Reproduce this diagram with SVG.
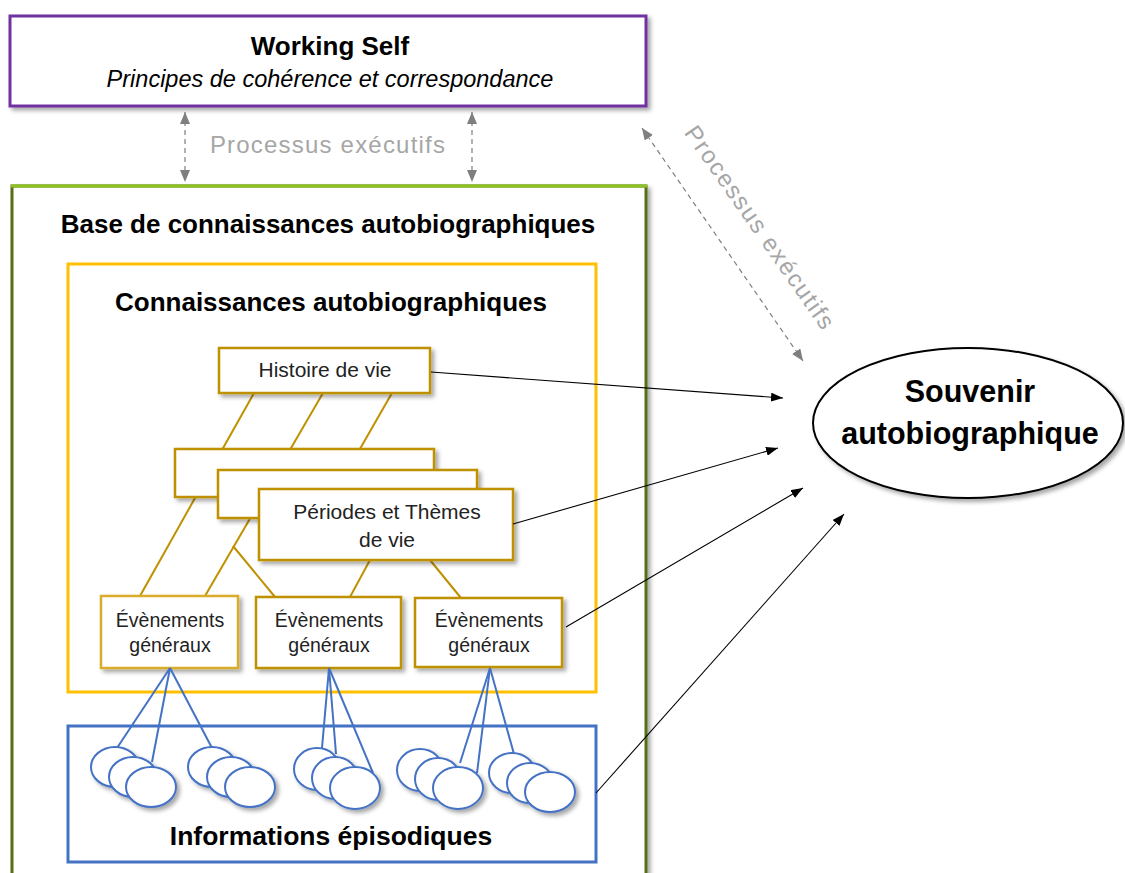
<svg xmlns="http://www.w3.org/2000/svg" width="1125" height="873" viewBox="0 0 1125 873">
<defs>
<filter id="sh" x="-10%" y="-10%" width="130%" height="130%">
<feDropShadow dx="3" dy="3" stdDeviation="2" flood-color="#000" flood-opacity="0.35"/>
</filter>
<marker id="ab" viewBox="0 0 12 9" refX="12" refY="4.5" markerWidth="12" markerHeight="9" markerUnits="userSpaceOnUse" orient="auto">
<path d="M0,0 L12,4.5 L0,9 z" fill="#000"/>
</marker>
<marker id="ag" viewBox="0 0 12 10" refX="12" refY="5" markerWidth="12" markerHeight="10" markerUnits="userSpaceOnUse" orient="auto-start-reverse">
<path d="M0,0 L12,5 L0,10 z" fill="#7F7F7F"/>
</marker>
</defs>
<style>
text{font-family:"Liberation Sans",Arial,sans-serif;fill:#000}
.t{font-weight:bold;font-size:26px;text-anchor:middle}
.n{font-size:21px;text-anchor:middle;fill:#222}
.ev{font-size:19.5px;text-anchor:middle;fill:#222}
.g{font-size:24px;fill:#A6A6A6;letter-spacing:1.2px;text-anchor:middle}
.gold{fill:#fff;stroke:#BF9000;stroke-width:2.5}
.gl{stroke:#BF9000;stroke-width:2;fill:none}
.bl{stroke:#4472C4;stroke-width:2;fill:none}
.ep{fill:#fff;stroke:#4472C4;stroke-width:2}
.dash{stroke:#7F7F7F;stroke-width:1.2;stroke-dasharray:5,4;fill:none}
.arr{stroke:#000;stroke-width:1.1;fill:none}
</style>

<g id="working-self">
<rect x="10" y="16" width="636" height="90" fill="#fff" stroke="#7030A0" stroke-width="3" filter="url(#sh)"/>
<text x="330" y="55" class="t">Working Self</text>
<text x="330" y="87" style="font-size:23.5px;font-style:italic;text-anchor:middle">Principes de cohérence et correspondance</text>
</g>

<g id="base">
<rect x="12" y="186" width="634" height="700" fill="#fff" stroke="#566F14" stroke-width="3" filter="url(#sh)"/>
<line x1="11" y1="186" x2="647" y2="186" stroke="#8DC21F" stroke-width="3"/>
<text x="328" y="233" class="t">Base de connaissances autobiographiques</text>
</g>

<g id="connaissances">
<rect x="68" y="264" width="528" height="428" fill="#fff" stroke="#FFC000" stroke-width="3"/>
<text x="331" y="311" class="t">Connaissances autobiographiques</text>
</g>

<g id="informations">
<rect x="68" y="726" width="528" height="136" fill="#fff" stroke="#4472C4" stroke-width="3"/>
<text x="331" y="845" class="t" style="font-size:26.5px">Informations épisodiques</text>
</g>

<g id="hierarchy-lines">
<line class="gl" x1="254" y1="393" x2="140" y2="596"/>
<line class="gl" x1="323" y1="393" x2="205" y2="596"/>
<line class="gl" x1="233" y1="546" x2="275" y2="597"/>
<line class="gl" x1="392" y1="393" x2="337" y2="489"/>
<line class="gl" x1="370" y1="560" x2="350" y2="597"/>
<line class="gl" x1="430" y1="560" x2="461" y2="598"/>
</g>

<g id="histoire">
<rect class="gold" x="219" y="348" width="211" height="45" filter="url(#sh)"/>
<text x="325" y="377" class="n">Histoire de vie</text>
</g>

<g id="periodes">
<rect class="gold" x="175" y="449" width="259" height="48" filter="url(#sh)"/>
<rect class="gold" x="218" y="470" width="259" height="48" filter="url(#sh)"/>
<rect class="gold" x="259" y="489" width="254" height="71" filter="url(#sh)"/>
<text x="387" y="519" class="n">Périodes et Thèmes</text>
<text x="387" y="547" class="n">de vie</text>
</g>

<g id="ev1">
<rect x="101" y="596" width="137" height="72" fill="#fff" stroke="#D9AD2C" stroke-width="2.5" filter="url(#sh)"/>
<text x="170" y="627" class="ev">Évènements</text>
<text x="170" y="652" class="ev">généraux</text>
</g>
<g id="ev2">
<rect class="gold" x="256" y="597" width="145" height="71" filter="url(#sh)"/>
<text x="329" y="627" class="ev">Évènements</text>
<text x="329" y="652" class="ev">généraux</text>
</g>
<g id="ev3">
<rect class="gold" x="415" y="598" width="147" height="69" filter="url(#sh)"/>
<text x="489" y="627" class="ev">Évènements</text>
<text x="489" y="652" class="ev">généraux</text>
</g>

<g id="episode-lines">
<line class="bl" x1="170" y1="668" x2="117" y2="748"/>
<line class="bl" x1="170" y1="668" x2="152" y2="762"/>
<line class="bl" x1="170" y1="668" x2="212" y2="748"/>
<line class="bl" x1="329" y1="668" x2="322" y2="748"/>
<line class="bl" x1="329" y1="668" x2="336" y2="754"/>
<line class="bl" x1="329" y1="668" x2="373" y2="773"/>
<line class="bl" x1="490" y1="668" x2="460" y2="763"/>
<line class="bl" x1="490" y1="668" x2="477" y2="773"/>
<line class="bl" x1="490" y1="668" x2="514" y2="754"/>
</g>

<g id="episodes" filter="url(#sh)">
<ellipse class="ep" cx="115" cy="767" rx="24" ry="20"/>
<ellipse class="ep" cx="133" cy="777" rx="24" ry="20"/>
<ellipse class="ep" cx="151" cy="787" rx="25" ry="20"/>
<ellipse class="ep" cx="212" cy="767" rx="24" ry="20"/>
<ellipse class="ep" cx="231" cy="777" rx="24" ry="20"/>
<ellipse class="ep" cx="250" cy="787" rx="25" ry="20"/>
<ellipse class="ep" cx="317" cy="769" rx="23" ry="21"/>
<ellipse class="ep" cx="335" cy="778" rx="23" ry="21"/>
<ellipse class="ep" cx="355" cy="788" rx="25" ry="21"/>
<ellipse class="ep" cx="420" cy="770" rx="23" ry="21"/>
<ellipse class="ep" cx="438" cy="779" rx="23" ry="21"/>
<ellipse class="ep" cx="458" cy="788" rx="25" ry="21"/>
<ellipse class="ep" cx="512" cy="773" rx="23" ry="20"/>
<ellipse class="ep" cx="530" cy="783" rx="23" ry="20"/>
<ellipse class="ep" cx="550" cy="792" rx="25" ry="20"/>
</g>

<g id="souvenir">
<ellipse cx="968" cy="423" rx="155" ry="75" fill="#fff" stroke="#000" stroke-width="2" filter="url(#sh)"/>
<text x="970" y="402" class="t" style="font-size:30.5px">Souvenir</text>
<text x="970" y="444" class="t" style="font-size:30.5px">autobiographique</text>
</g>

<g id="connectors">
<line class="dash" x1="185" y1="112" x2="185" y2="182" marker-start="url(#ag)" marker-end="url(#ag)"/>
<line class="dash" x1="472" y1="112" x2="472" y2="182" marker-start="url(#ag)" marker-end="url(#ag)"/>
<text x="328" y="153" class="g">Processus exécutifs</text>
<line class="dash" x1="642" y1="128" x2="803" y2="361" marker-start="url(#ag)" marker-end="url(#ag)"/>
<text transform="translate(760,228) rotate(55)" x="0" y="8" class="g" style="letter-spacing:1.6px">Processus exécutifs</text>
<line class="arr" x1="431" y1="372" x2="783" y2="398" marker-end="url(#ab)"/>
<line class="arr" x1="513" y1="524" x2="778" y2="448" marker-end="url(#ab)"/>
<line class="arr" x1="566" y1="627" x2="803" y2="488" marker-end="url(#ab)"/>
<line class="arr" x1="596" y1="793" x2="844" y2="514" marker-end="url(#ab)"/>
</g>
</svg>
